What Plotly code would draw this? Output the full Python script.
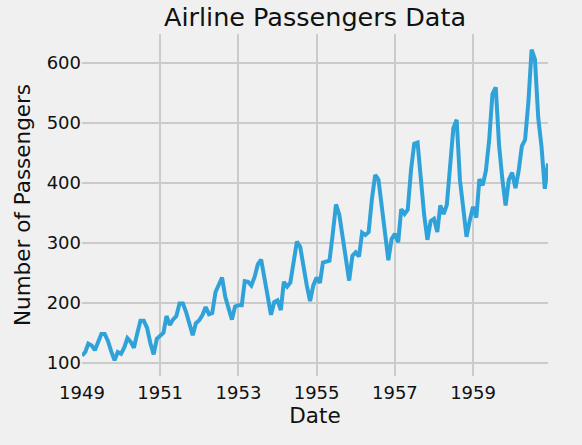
import pandas as pd
import plotly.graph_objects as go

# monthly totals, 1949-01 .. 1960-12
passengers = [
    112, 118, 132, 129, 121, 135, 148, 148, 136, 119, 104, 118,
    115, 126, 141, 135, 125, 149, 170, 170, 158, 133, 114, 140,
    145, 150, 178, 163, 172, 178, 199, 199, 184, 162, 146, 166,
    171, 180, 193, 181, 183, 218, 230, 242, 209, 191, 172, 194,
    196, 196, 236, 235, 229, 243, 264, 272, 237, 211, 180, 201,
    204, 188, 235, 227, 234, 264, 302, 293, 259, 229, 203, 229,
    242, 233, 267, 269, 270, 315, 364, 347, 312, 274, 237, 278,
    284, 277, 317, 313, 318, 374, 413, 405, 355, 306, 271, 306,
    315, 301, 356, 348, 355, 422, 465, 467, 404, 347, 305, 336,
    340, 318, 362, 348, 363, 435, 491, 505, 404, 359, 310, 337,
    360, 342, 406, 396, 420, 472, 548, 559, 463, 407, 362, 405,
    417, 391, 419, 461, 472, 535, 622, 606, 508, 461, 390, 432,
]
dates = pd.date_range("1949-01-01", periods=len(passengers), freq="MS")

tick_years = ["1949", "1951", "1953", "1955", "1957", "1959"]
y_ticks = [100, 200, 300, 400, 500, 600]

fig = go.Figure()
fig.add_trace(go.Scatter(
    x=dates, y=passengers, mode="lines",
    line=dict(color="#30a2da", width=4),
    showlegend=False,
))

font = "DejaVu Sans, sans-serif"
fig.update_layout(
    width=582, height=445,
    paper_bgcolor="#f0f0f0", plot_bgcolor="#f0f0f0",
    margin=dict(l=82, r=34, t=34, b=69, autoexpand=False),
    font=dict(family=font, color="#111111", size=18),
    title=dict(text="Airline Passengers Data", x=0.5, xanchor="center",
               xref="paper", y=0.962, yanchor="middle",
               font=dict(size=25.5, color="#111111")),
)
fig.update_xaxes(
    range=[dates[0], dates[-1]],
    tickvals=[pd.Timestamp(y + "-01-01") for y in tick_years],
    ticktext=tick_years,
    showgrid=True, gridcolor="#cbcbcb", gridwidth=1.5,
    zeroline=False, showline=False, ticks="",
    tickfont=dict(size=18), automargin=False, ticklabelstandoff=4,
    title=dict(text="Date", font=dict(size=21.5), standoff=4),
)
fig.update_yaxes(
    range=[78, 648],
    tickvals=y_ticks,
    showgrid=True, gridcolor="#cbcbcb", gridwidth=1.5,
    zeroline=False, showline=False, ticks="",
    tickfont=dict(size=18), automargin=False,
    title=dict(text="Number of Passengers", font=dict(size=21.5), standoff=10),
)

# the page body has a default 8px margin; drop it so the figure sits at 0,0
fig.write_html("out.html", config={"displayModeBar": False},
               post_script="document.body.style.margin='0';")
